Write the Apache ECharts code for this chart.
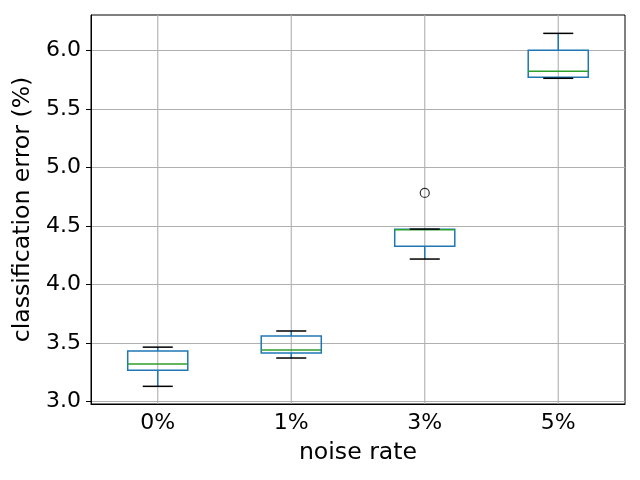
<!DOCTYPE html>
<html>
<head>
<meta charset="utf-8">
<script src="https://cdn.jsdelivr.net/npm/echarts@6/dist/echarts.min.js"></script>
<style>
  html, body { margin: 0; padding: 0; background: #fff; }
  #chart { width: 640px; height: 480px; }
</style>
</head>
<body>
<div id="chart"></div>
<script>
// noise rate categories
var categories = ['0%', '1%', '3%', '5%'];

// box statistics per category (classification error, %)
var whiskerLow  = [3.128, 3.370, 4.216, 5.761];
var q1          = [3.265, 3.413, 4.325, 5.769];
var median      = [3.319, 3.439, 4.467, 5.821];
var q3          = [3.429, 3.558, 4.470, 6.000];
var whiskerHigh = [3.463, 3.601, 4.472, 6.145];

// fliers: [category index, value]
var outliers = [[2, 4.781]];

var yTicks = [3.0, 3.5, 4.0, 4.5, 5.0, 5.5, 6.0];

var boxData = categories.map(function (c, i) {
  return [i, whiskerLow[i], q1[i], median[i], q3[i], whiskerHigh[i]];
});

function renderBox(params, api) {
  var i = api.value(0);
  var lo = api.coord([i, api.value(1)]);
  var b1 = api.coord([i, api.value(2)]);
  var md = api.coord([i, api.value(3)]);
  var b3 = api.coord([i, api.value(4)]);
  var hi = api.coord([i, api.value(5)]);
  var band = api.size([1, 0])[0];
  var hb = band * 0.45 / 2;
  var hc = hb / 2;
  var x = lo[0];
  var cs = params.coordSys;
  var lw = 1.5;
  return {
    type: 'group',
    children: [
      // vertical grid line at category centre
      { type: 'line', shape: { x1: x, y1: cs.y, x2: x, y2: cs.y + cs.height },
        style: { stroke: '#b0b0b0', lineWidth: 1.1 } },
      // whiskers
      { type: 'line', shape: { x1: x, y1: b1[1], x2: x, y2: lo[1] },
        style: { stroke: '#1f77b4', lineWidth: lw } },
      { type: 'line', shape: { x1: x, y1: b3[1], x2: x, y2: hi[1] },
        style: { stroke: '#1f77b4', lineWidth: lw } },
      // box
      { type: 'rect', shape: { x: x - hb, y: b3[1], width: hb * 2, height: b1[1] - b3[1] },
        style: { fill: 'none', stroke: '#1f77b4', lineWidth: lw } },
      // median
      { type: 'line', shape: { x1: x - hb, y1: md[1], x2: x + hb, y2: md[1] },
        style: { stroke: '#2ca02c', lineWidth: lw } },
      // caps
      { type: 'line', shape: { x1: x - hc, y1: lo[1], x2: x + hc, y2: lo[1] },
        style: { stroke: '#000', lineWidth: lw } },
      { type: 'line', shape: { x1: x - hc, y1: hi[1], x2: x + hc, y2: hi[1] },
        style: { stroke: '#000', lineWidth: lw } }
    ]
  };
}

var chart = echarts.init(document.getElementById('chart'));

var font = 'DejaVu Sans';

var option = {
  animation: false,
  grid: {
    left: 91, right: 15, top: 15, bottom: 76,
    show: true, borderColor: '#000', borderWidth: 1, backgroundColor: 'transparent'
  },
  xAxis: {
    type: 'category',
    data: categories,
    name: 'noise rate',
    nameLocation: 'middle',
    nameGap: 37,
    nameTextStyle: { fontFamily: font, fontSize: 23.6, color: '#000' },
    axisLine: { lineStyle: { color: '#000', width: 1 } },
    axisTick: { alignWithLabel: true, length: 5, lineStyle: { color: '#000' } },
    axisLabel: { fontFamily: font, fontSize: 22, color: '#000', margin: 8 },
    splitLine: { show: false }
  },
  yAxis: {
    type: 'value',
    min: 2.977,
    max: 6.302,
    name: 'classification error (%)',
    nameLocation: 'middle',
    nameGap: 53,
    nameTextStyle: { fontFamily: font, fontSize: 23.6, color: '#000' },
    axisLine: { show: true, lineStyle: { color: '#000', width: 1 } },
    axisTick: { show: true, length: 5, lineStyle: { color: '#000' }, customValues: yTicks },
    axisLabel: {
      fontFamily: font, fontSize: 22, color: '#000', margin: 10,
      customValues: yTicks,
      formatter: function (v) { return v.toFixed(1); }
    },
    splitLine: { show: true, lineStyle: { color: '#b0b0b0', width: 1.1 } }
  },
  series: [
    {
      type: 'custom',
      renderItem: renderBox,
      data: boxData,
      encode: { x: 0, y: [1, 2, 3, 4, 5] },
      z: 2
    },
    {
      type: 'scatter',
      data: outliers,
      symbol: 'circle',
      symbolSize: 9,
      itemStyle: { color: 'transparent', borderColor: '#000', borderWidth: 1.2 },
      z: 3
    }
  ]
};

chart.setOption(option);
</script>
</body>
</html>
